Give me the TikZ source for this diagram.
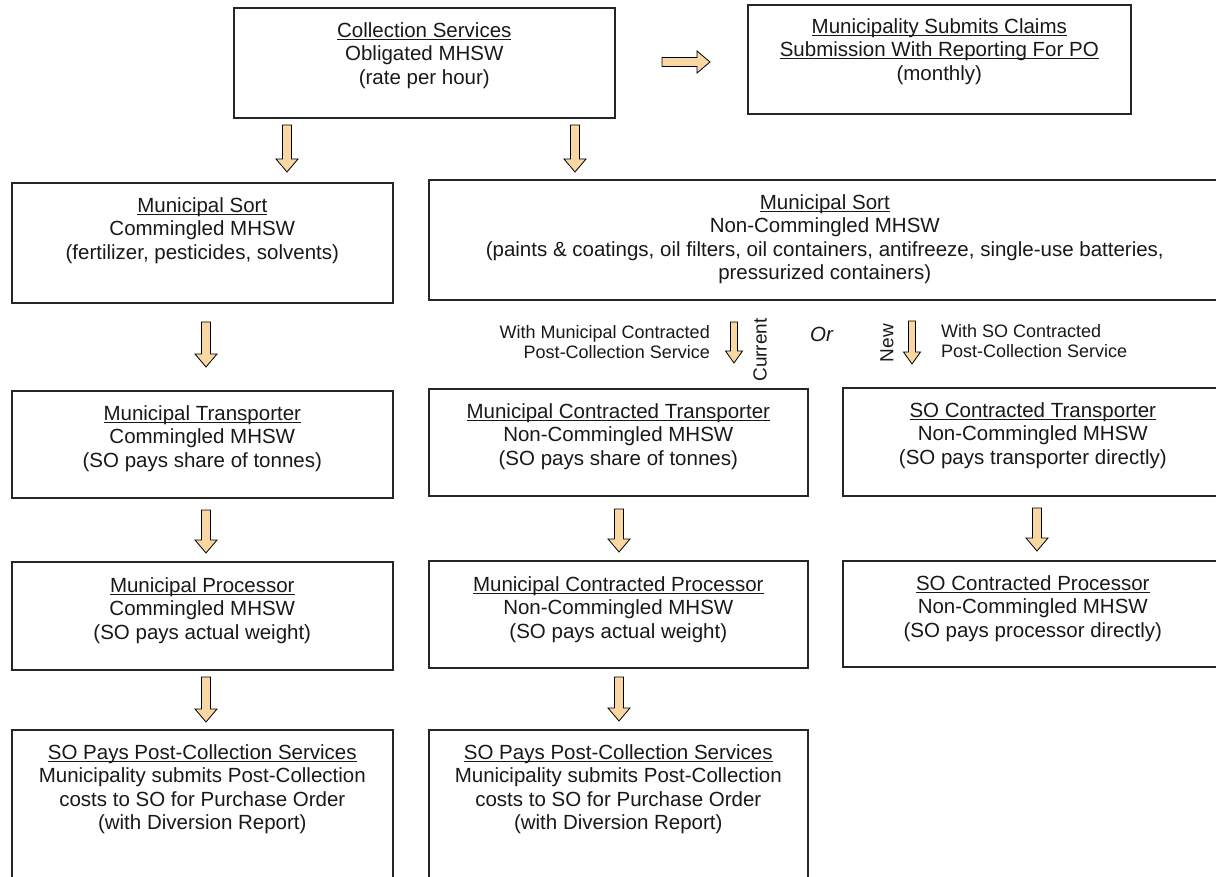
\documentclass[tikz,border=0pt]{standalone}
\usepackage{fontspec}
\setmainfont{Liberation Sans}
\usetikzlibrary{calc}
\definecolor{arrowtan}{RGB}{248,215,163}
\newcommand\myul[1]{\setbox0\hbox{#1}\rlap{\rule[-2.6pt]{\wd0}{0.9pt}}\box0}
\newcommand\topstrut{\rule{0pt}{16pt}}
\newcommand\smstrut{\rule{0pt}{14pt}}
\newcommand\blkdown[6]{%
  \draw[blk] ({#1-#4},#2) -- ({#1+#4},#2) -- ({#1+#4},{#3-#6}) -- ({#1+#5},{#3-#6})
    -- (#1,#3) -- ({#1-#5},{#3-#6}) -- ({#1-#4},{#3-#6}) -- cycle;}
\begin{document}
\begin{tikzpicture}[x=1pt,y=-1pt,
  box/.style={draw=black!85, line width=1.6pt, inner sep=0pt, anchor=north west},
  txt/.style={anchor=north, align=center, inner sep=0pt, text=black!90, font=\fontsize{20.5}{23.5}\selectfont},
  lbl/.style={inner sep=0pt, text=black!90, font=\fontsize{18}{20}\selectfont},
  blk/.style={draw=black, line width=0.8pt, fill=arrowtan, line join=miter}]
\useasboundingbox (0,0) rectangle (1216,877);
\clip (0,0) rectangle (1216,877);
\fill[white] (0,0) rectangle (1216,877);

% boxes
\node[box, minimum width=381pt, minimum height=110pt] (cs) at (233,7) {};
\node[box, minimum width=383pt, minimum height=109pt] (cl) at (747,4) {};
\node[box, minimum width=381pt, minimum height=120pt] (ls) at (11,182) {};
\node[box, minimum width=792pt, minimum height=120pt] (rs) at (428,179) {};
\node[box, minimum width=381pt, minimum height=107pt] (lt) at (11,390) {};
\node[box, minimum width=379pt, minimum height=107pt] (mt) at (428,388) {};
\node[box, minimum width=380pt, minimum height=108pt] (rt) at (842,387) {};
\node[box, minimum width=381pt, minimum height=108pt] (lp) at (11,561) {};
\node[box, minimum width=379pt, minimum height=107pt] (mp) at (428,560) {};
\node[box, minimum width=380pt, minimum height=106pt] (rp) at (842,560) {};
\node[box, minimum width=381pt, minimum height=180pt] (lb) at (11,729) {};
\node[box, minimum width=379pt, minimum height=180pt] (mb) at (428,729) {};

% texts
\node[txt] (cst) at ([yshift=-14pt]cs.north) {\topstrut\myul{Collection Services}\\Obligated MHSW\\(rate per hour)};
\node[txt] (clt) at ([yshift=-13pt]cl.north) {\topstrut\myul{Municipality Submits Claims}\\\myul{Submission With Reporting For PO}\\(monthly)};
\node[txt] (lst) at ([yshift=-14pt]ls.north) {\topstrut\myul{Municipal Sort}\\Commingled MHSW\\(fertilizer, pesticides, solvents)};
\node[txt] (rst) at ([yshift=-14pt]rs.north) {\topstrut\myul{Municipal Sort}\\Non-Commingled MHSW\\(paints \& coatings, oil filters, oil containers, antifreeze, single-use batteries,\\pressurized containers)};
\node[txt] (ltt) at ([yshift=-14pt]lt.north) {\topstrut\myul{Municipal Transporter}\\Commingled MHSW\\(SO pays share of tonnes)};
\node[txt] (mtt) at ([yshift=-14pt]mt.north) {\topstrut\myul{Municipal Contracted Transporter}\\Non-Commingled MHSW\\(SO pays share of tonnes)};
\node[txt] (rtt) at ([yshift=-14pt]rt.north) {\topstrut\myul{SO Contracted Transporter}\\Non-Commingled MHSW\\(SO pays transporter directly)};
\node[txt] (lpt) at ([yshift=-15pt]lp.north) {\topstrut\myul{Municipal Processor}\\Commingled MHSW\\(SO pays actual weight)};
\node[txt] (mpt) at ([yshift=-15pt]mp.north) {\topstrut\myul{Municipal Contracted Processor}\\Non-Commingled MHSW\\(SO pays actual weight)};
\node[txt] (rpt) at ([yshift=-14pt]rp.north) {\topstrut\myul{SO Contracted Processor}\\Non-Commingled MHSW\\(SO pays processor directly)};
\node[txt] (lbt) at ([yshift=-14pt]lb.north) {\topstrut\myul{SO Pays Post-Collection Services}\\Municipality submits Post-Collection\\costs to SO for Purchase Order\\(with Diversion Report)};
\node[txt] (mbt) at ([yshift=-14pt]mb.north) {\topstrut\myul{SO Pays Post-Collection Services}\\Municipality submits Post-Collection\\costs to SO for Purchase Order\\(with Diversion Report)};

% small labels
\node[lbl, anchor=north east, align=right] (wmc) at (710,324) {\smstrut With Municipal Contracted\\Post-Collection Service};
\node[lbl, anchor=north west, align=left] (wsc) at (941,323) {\smstrut With SO Contracted\\Post-Collection Service};
\node[inner sep=0pt, rotate=90, text=black!90, font=\fontsize{19}{20}\selectfont] (cur) at (760,350) {Current};
\node[inner sep=0pt, rotate=90, text=black!90, font=\fontsize{19}{20}\selectfont] (new) at (887,343) {New};
\node[inner sep=0pt, anchor=base west, text=black!90, font=\fontsize{20.5}{23.5}\selectfont\itshape] (or) at (810,342) {Or};

% block arrows
\draw[blk] (662,57.5) -- (697,57.5) -- (697,51) -- (710,62) -- (697,73) -- (697,66.5) -- (662,66.5) -- cycle;
\blkdown{287}{125}{172}{4.5}{11}{13}
\blkdown{575}{125}{172}{4.5}{11}{13}
\blkdown{206}{322}{367}{4.5}{11}{13}
\blkdown{734}{322}{363}{3.5}{8.5}{12}
\blkdown{912}{321}{364}{3.5}{8.5}{12}
\blkdown{206}{510}{553}{4.5}{11}{13}
\blkdown{619}{509}{552}{4.5}{11}{13}
\blkdown{1037}{508}{551}{4.5}{11}{13}
\blkdown{206}{677}{722}{4.5}{11}{13}
\blkdown{619}{677}{721}{4.5}{11}{13}
\end{tikzpicture}
\end{document}
